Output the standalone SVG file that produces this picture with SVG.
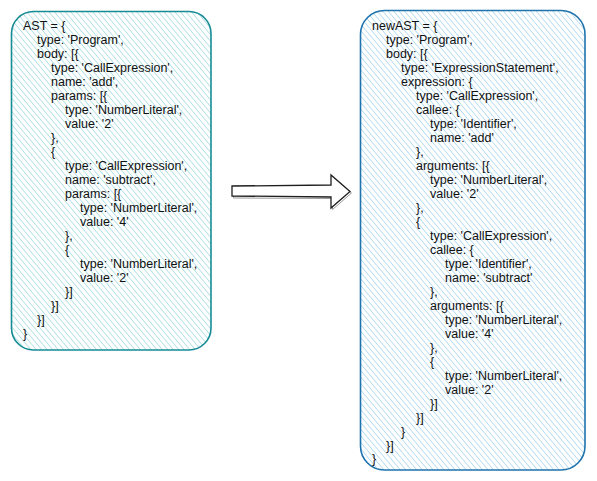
<svg xmlns="http://www.w3.org/2000/svg" width="597" height="481" viewBox="0 0 597 481">
<defs>
<pattern id="hatchL" patternUnits="userSpaceOnUse" width="4.2" height="4.2" patternTransform="rotate(-40)">
<rect width="4.2" height="4.2" fill="#ffffff"/>
<line x1="0" y1="0" x2="0" y2="4.2" stroke="#8ed2d9" stroke-width="1.2"/>
</pattern>
<pattern id="hatchR" patternUnits="userSpaceOnUse" width="4.2" height="4.2" patternTransform="rotate(-40)">
<rect width="4.2" height="4.2" fill="#ffffff"/>
<line x1="0" y1="0" x2="0" y2="4.2" stroke="#96cbec" stroke-width="1.2"/>
</pattern>
<style>
text{font-family:"Comic Sans MS","Liberation Sans",sans-serif;font-size:12.5px;fill:#111111}
.boxL{fill:url(#hatchL);stroke:#178c95;stroke-width:1.6}
.boxR{fill:url(#hatchR);stroke:#1f73ad;stroke-width:1.6}
.arrow{fill:#ffffff;stroke:#1e1e1e;stroke-width:1.3;stroke-linejoin:miter}
</style>
</defs>
<rect width="597" height="481" fill="#ffffff"/>
<g id="ast">
<rect class="boxL" x="11.5" y="11.5" width="199.5" height="338.5" rx="22" ry="22"/>
<text x="23" y="29.5">AST = {</text>
<text x="37" y="43.5">type: 'Program',</text>
<text x="37" y="57.5">body: [{</text>
<text x="51" y="71.5">type: 'CallExpression',</text>
<text x="51" y="85.5">name: 'add',</text>
<text x="51" y="99.5">params: [{</text>
<text x="65" y="113.5">type: 'NumberLiteral',</text>
<text x="65" y="127.5">value: '2'</text>
<text x="51" y="141.5">},</text>
<text x="51" y="155.5">{</text>
<text x="65" y="169.5">type: 'CallExpression',</text>
<text x="65" y="183.5">name: 'subtract',</text>
<text x="65" y="197.5">params: [{</text>
<text x="80" y="211.5">type: 'NumberLiteral',</text>
<text x="80" y="225.5">value: '4'</text>
<text x="65" y="239.5">},</text>
<text x="65" y="253.5">{</text>
<text x="80" y="267.5">type: 'NumberLiteral',</text>
<text x="80" y="281.5">value: '2'</text>
<text x="65" y="295.5">}]</text>
<text x="51" y="309.5">}]</text>
<text x="37" y="323.5">}]</text>
<text x="23" y="337.5">}</text>
</g>
<g id="newast">
<rect class="boxR" x="360.5" y="10.5" width="224.5" height="459.5" rx="24" ry="24"/>
<text x="372" y="29.5">newAST = {</text>
<text x="386" y="43.5">type: 'Program',</text>
<text x="386" y="57.5">body: [{</text>
<text x="401" y="71.5">type: 'ExpressionStatement',</text>
<text x="401" y="85.5">expression: {</text>
<text x="416" y="99.5">type: 'CallExpression',</text>
<text x="416" y="113.5">callee: {</text>
<text x="430" y="127.5">type: 'Identifier',</text>
<text x="430" y="141.5">name: 'add'</text>
<text x="416" y="155.5">},</text>
<text x="416" y="169.5">arguments: [{</text>
<text x="430" y="183.5">type: 'NumberLiteral',</text>
<text x="430" y="197.5">value: '2'</text>
<text x="416" y="211.5">},</text>
<text x="416" y="225.5">{</text>
<text x="430" y="239.5">type: 'CallExpression',</text>
<text x="430" y="253.5">callee: {</text>
<text x="445" y="267.5">type: 'Identifier',</text>
<text x="445" y="281.5">name: 'subtract'</text>
<text x="430" y="295.5">},</text>
<text x="430" y="309.5">arguments: [{</text>
<text x="445" y="323.5">type: 'NumberLiteral',</text>
<text x="445" y="337.5">value: '4'</text>
<text x="430" y="351.5">},</text>
<text x="430" y="365.5">{</text>
<text x="445" y="379.5">type: 'NumberLiteral',</text>
<text x="445" y="393.5">value: '2'</text>
<text x="430" y="407.5">}]</text>
<text x="416" y="421.5">}]</text>
<text x="401" y="435.5">}</text>
<text x="386" y="449.5">}]</text>
<text x="372" y="463">}</text>
</g>
<g id="connectors">
<polygon points="232,186.5 331,185.5 331,175 350,191.5 331,208 331,197 232,196.5" fill="none" stroke="#9a9a9a" stroke-width="1" transform="translate(1.5,1.5)"/>
<polygon class="arrow" points="232,186 331,185 331,175 350,191.5 331,208 331,197 232,196"/>
</g>
</svg>
